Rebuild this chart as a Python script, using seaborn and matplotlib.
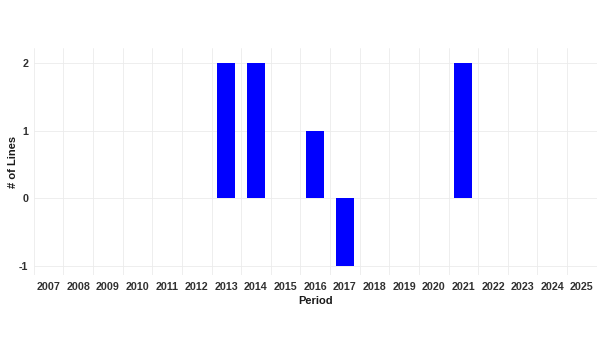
import matplotlib
matplotlib.use("Agg")
import matplotlib.pyplot as plt
import seaborn as sns
import numpy as np
import pandas as pd
from matplotlib.ticker import FixedLocator

years = [str(y) for y in range(2007, 2026)]
values = [0, 0, 0, 0, 0, 0, 2, 2, 0, 1, -1, 0, 0, 0, 2, 0, 0, 0, 0]

df = pd.DataFrame({"Period": years, "Lines": values})

sns.set_theme(style="white")
plt.rcParams["font.family"] = ["Liberation Sans", "DejaVu Sans"]

fig = plt.figure(figsize=(6, 3.63), dpi=100)
ax = fig.add_axes([0.0562, 0.2424, 0.9383, 0.6254])

sns.barplot(data=df, x="Period", y="Lines", color="#0000FF", saturation=1,
            width=0.6, edgecolor="none", linewidth=0, ax=ax, zorder=3)

ax.set_xlim(-0.5, len(years) - 0.5)
ax.set_ylim(-1.14, 2.23)
ax.set_yticks([-1, 0, 1, 2])
ax.set_yticklabels(["-1", "0", "1", "2"])

ax.xaxis.set_minor_locator(FixedLocator(np.arange(-0.5, len(years), 1.0)))
ax.grid(False)
ax.grid(which="minor", axis="x", color="#ebebeb", linewidth=0.6, zorder=0)
ax.grid(which="major", axis="y", color="#ebebeb", linewidth=0.6, zorder=0)
ax.tick_params(which="both", length=0)
ax.tick_params(axis="x", pad=5, labelsize=7.7, labelcolor="#303030")
ax.tick_params(axis="y", pad=4, labelsize=7.7, labelcolor="#303030")
for lbl in ax.get_xticklabels() + ax.get_yticklabels():
    lbl.set_fontweight("bold")

for s in ax.spines.values():
    s.set_visible(False)

ax.set_xlabel("Period", fontsize=8, fontweight="bold", color="#1a1a1a", labelpad=3)
ax.set_ylabel("# of Lines", fontsize=8, fontweight="bold", color="#1a1a1a", labelpad=0.5)

fig.savefig("out.png", dpi=100, facecolor="white")
